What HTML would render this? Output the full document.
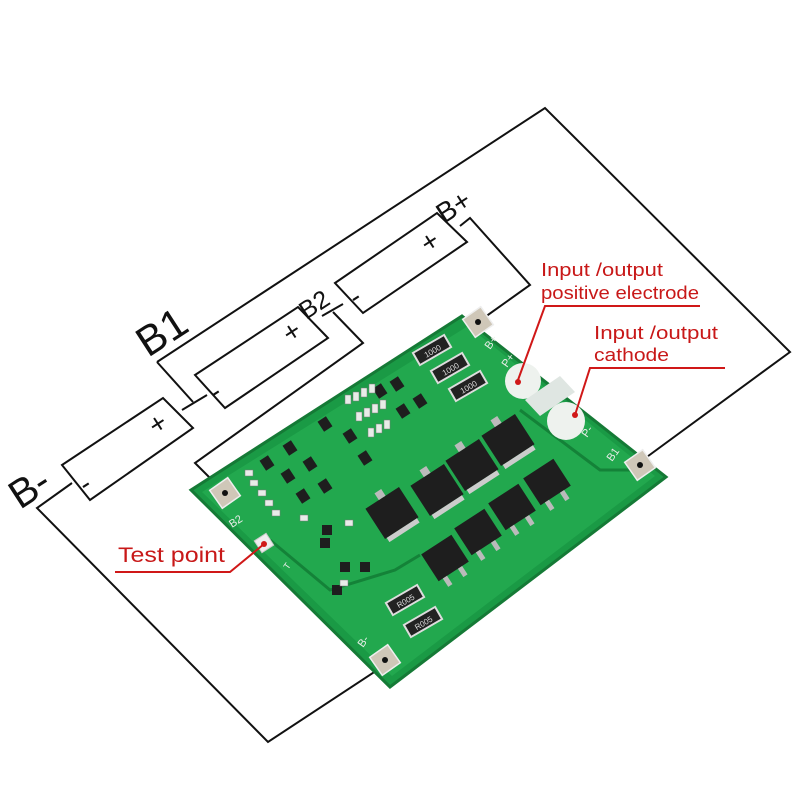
<!DOCTYPE html>
<html><head><meta charset="utf-8"><style>
html,body{margin:0;padding:0;background:#fff;}
svg{display:block;}
text{font-family:"Liberation Sans",sans-serif;}
</style></head><body>
<svg width="800" height="800" viewBox="0 0 800 800" xmlns="http://www.w3.org/2000/svg">
<g fill="none" stroke="#111" stroke-width="2">
 <polyline points="157,362 545,108 790,352 640,462"/>
 <polyline points="157,362 193,402"/>
 <polyline points="182,410 207,395"/>
 <polyline points="72,483 37,508 268,742 388,663"/>
 <polyline points="322,316 343,304"/>
 <polyline points="333,312 363,343 195,463 225,493"/>
 <polyline points="460,226 470,218 530,285 478,322"/>
 <polygon points="62,465 163,398 193,428 90,500" fill="#fff"/>
 <polygon points="195,375 298,307 328,338 225,408" fill="#fff"/>
 <polygon points="335,283 437,213 467,242 363,313" fill="#fff"/>
</g>
<g fill="#111" font-size="28">
 <text transform="translate(86,494) rotate(-33)">-</text>
 <text transform="translate(156,436) rotate(-33)">+</text>
 <text transform="translate(216,402) rotate(-33)">-</text>
 <text transform="translate(290,344) rotate(-33)">+</text>
 <text transform="translate(356,307) rotate(-33)">-</text>
 <text transform="translate(428,254) rotate(-33)">+</text>
 <text transform="translate(20,510) rotate(-33)" font-size="40">B-</text>
 <text transform="translate(148,358) rotate(-33)" font-size="42">B1</text>
 <text transform="translate(306,320) rotate(-33)" font-size="25">B2</text>
 <text transform="translate(444,224) rotate(-33)" font-size="28">B+</text>
</g>
<polygon points="462,316 666,477 390,687 191,490" fill="#1a9a45" stroke="#157a36" stroke-width="3"/>
<polygon points="468,326 655,476 392,676 202,492" fill="#22a84e"/>
<polyline points="270,540 330,590 395,570 420,555" fill="none" stroke="#148238" stroke-width="3"/>
<polyline points="520,410 600,470 650,470" fill="none" stroke="#148238" stroke-width="3"/>
<g fill="#cfc7b8" stroke="#eee" stroke-width="1.5">
 <rect x="214" y="482" width="22" height="22" transform="rotate(-35 225 493)"/>
 <rect x="467" y="311" width="22" height="22" transform="rotate(-35 478 322)"/>
 <rect x="629" y="454" width="22" height="22" transform="rotate(-35 640 465)"/>
 <rect x="374" y="649" width="22" height="22" transform="rotate(-35 385 660)"/>
</g>
<g fill="#111"><circle cx="225" cy="493" r="3"/><circle cx="478" cy="322" r="3"/><circle cx="640" cy="465" r="3"/><circle cx="385" cy="660" r="3"/></g>
<circle cx="523" cy="381" r="18" fill="#eef2ee"/>
<circle cx="566" cy="421" r="19" fill="#eef2ee"/>
<polygon points="525,400 560,376 575,392 540,416" fill="#dfe6e2"/>
<g transform="rotate(-30 432 350)"><rect x="414" y="343" width="36" height="14" fill="#222" stroke="#ddd" stroke-width="2"/><text x="432" y="354" font-size="8" fill="#ddd" text-anchor="middle">1000</text></g>
<g transform="rotate(-30 450 368)"><rect x="432" y="361" width="36" height="14" fill="#222" stroke="#ddd" stroke-width="2"/><text x="450" y="372" font-size="8" fill="#ddd" text-anchor="middle">1000</text></g>
<g transform="rotate(-30 468 386)"><rect x="450" y="379" width="36" height="14" fill="#222" stroke="#ddd" stroke-width="2"/><text x="468" y="390" font-size="8" fill="#ddd" text-anchor="middle">1000</text></g>
<g transform="rotate(-30 405 600)"><rect x="387" y="593" width="36" height="14" fill="#222" stroke="#ddd" stroke-width="2"/><text x="405" y="604" font-size="8" fill="#ddd" text-anchor="middle">R005</text></g>
<g transform="rotate(-30 423 622)"><rect x="405" y="615" width="36" height="14" fill="#222" stroke="#ddd" stroke-width="2"/><text x="423" y="626" font-size="8" fill="#ddd" text-anchor="middle">R005</text></g>
<g fill="#1e1e1e">
 <g transform="rotate(-33 392 513)"><rect x="372" y="495" width="40" height="36"/><rect x="374" y="531" width="36" height="5" fill="#ccc"/><rect x="388" y="487" width="8" height="8" fill="#bbb"/></g>
 <g transform="rotate(-33 437 490)"><rect x="417" y="472" width="40" height="36"/><rect x="419" y="508" width="36" height="5" fill="#ccc"/><rect x="433" y="464" width="8" height="8" fill="#bbb"/></g>
 <g transform="rotate(-33 472 465)"><rect x="452" y="447" width="40" height="36"/><rect x="454" y="483" width="36" height="5" fill="#ccc"/><rect x="468" y="439" width="8" height="8" fill="#bbb"/></g>
 <g transform="rotate(-33 508 440)"><rect x="488" y="422" width="40" height="36"/><rect x="490" y="458" width="36" height="5" fill="#ccc"/><rect x="504" y="414" width="8" height="8" fill="#bbb"/></g>
 <g transform="rotate(-33 445 558)"><rect x="427" y="542" width="36" height="32"/><rect x="432" y="574" width="5" height="10" fill="#bbb"/><rect x="450" y="574" width="5" height="10" fill="#bbb"/></g>
 <g transform="rotate(-33 478 532)"><rect x="460" y="516" width="36" height="32"/><rect x="465" y="548" width="5" height="10" fill="#bbb"/><rect x="483" y="548" width="5" height="10" fill="#bbb"/></g>
 <g transform="rotate(-33 512 507)"><rect x="494" y="491" width="36" height="32"/><rect x="499" y="523" width="5" height="10" fill="#bbb"/><rect x="517" y="523" width="5" height="10" fill="#bbb"/></g>
 <g transform="rotate(-33 547 482)"><rect x="529" y="466" width="36" height="32"/><rect x="534" y="498" width="5" height="10" fill="#bbb"/><rect x="552" y="498" width="5" height="10" fill="#bbb"/></g>
</g>
<g fill="#1e1e1e">
 <rect x="392" y="378" width="10" height="12" transform="rotate(-33 397 384)"/>
 <rect x="375" y="385" width="10" height="12" transform="rotate(-33 380 391)"/>
 <rect x="415" y="395" width="10" height="12" transform="rotate(-33 420 401)"/>
 <rect x="398" y="405" width="10" height="12" transform="rotate(-33 403 411)"/>
 <rect x="320" y="418" width="10" height="12" transform="rotate(-33 325 424)"/>
 <rect x="345" y="430" width="10" height="12" transform="rotate(-33 350 436)"/>
 <rect x="360" y="452" width="10" height="12" transform="rotate(-33 365 458)"/>
 <rect x="285" y="442" width="10" height="12" transform="rotate(-33 290 448)"/>
 <rect x="262" y="457" width="10" height="12" transform="rotate(-33 267 463)"/>
 <rect x="283" y="470" width="10" height="12" transform="rotate(-33 288 476)"/>
 <rect x="305" y="458" width="10" height="12" transform="rotate(-33 310 464)"/>
 <rect x="320" y="480" width="10" height="12" transform="rotate(-33 325 486)"/>
 <rect x="298" y="490" width="10" height="12" transform="rotate(-33 303 496)"/>
 <rect x="322" y="525" width="10" height="10"/>
 <rect x="320" y="538" width="10" height="10"/>
 <rect x="340" y="562" width="10" height="10"/>
 <rect x="360" y="562" width="10" height="10"/>
 <rect x="332" y="585" width="10" height="10"/>
</g>
<g fill="#e8ece8" stroke="#777" stroke-width="0.5">
 <rect x="345" y="395" width="6" height="9"/><rect x="353" y="392" width="6" height="9"/><rect x="361" y="388" width="6" height="9"/><rect x="369" y="384" width="6" height="9"/>
 <rect x="356" y="412" width="6" height="9"/><rect x="364" y="408" width="6" height="9"/><rect x="372" y="404" width="6" height="9"/><rect x="380" y="400" width="6" height="9"/>
 <rect x="368" y="428" width="6" height="9"/><rect x="376" y="424" width="6" height="9"/><rect x="384" y="420" width="6" height="9"/>
 <rect x="245" y="470" width="8" height="6"/><rect x="250" y="480" width="8" height="6"/><rect x="258" y="490" width="8" height="6"/><rect x="265" y="500" width="8" height="6"/><rect x="272" y="510" width="8" height="6"/>
 <rect x="300" y="515" width="8" height="6"/><rect x="345" y="520" width="8" height="6"/><rect x="340" y="580" width="8" height="6"/>
</g>
<rect x="257" y="536" width="14" height="14" fill="#eee" stroke="#ccc" transform="rotate(-33 264 543)"/>
<text transform="translate(288,570) rotate(-55)" font-size="9" fill="#eee">T</text>
<g fill="#e8ece8" font-size="11">
 <text transform="translate(232,528) rotate(-33)">B2</text>
 <text transform="translate(363,648) rotate(-55)">B-</text>
 <text transform="translate(612,462) rotate(-55)">B1</text>
 <text transform="translate(490,350) rotate(-55)">B+</text>
 <text transform="translate(507,368) rotate(-55)">P+</text>
 <text transform="translate(587,438) rotate(-55)">P-</text>
</g>
<g stroke="#d01818" stroke-width="2" fill="none">
 <polyline points="700,306 545,306 518,380"/>
 <polyline points="725,368 590,368 575,415"/>
 <polyline points="115,572 230,572 264,544"/>
</g>
<g fill="#d01818"><circle cx="518" cy="382" r="3"/><circle cx="575" cy="415" r="3"/><circle cx="264" cy="544" r="3"/></g>
<g fill="#c81818" font-size="18">
 <text x="541" y="276" textLength="122" lengthAdjust="spacingAndGlyphs">Input /output</text>
 <text x="541" y="299" textLength="158" lengthAdjust="spacingAndGlyphs">positive electrode</text>
 <text x="594" y="339" textLength="124" lengthAdjust="spacingAndGlyphs">Input /output</text>
 <text x="594" y="361" textLength="75" lengthAdjust="spacingAndGlyphs">cathode</text>
 <text x="118" y="562" font-size="21" textLength="107" lengthAdjust="spacingAndGlyphs">Test point</text>
</g>
</svg>
</body></html>
